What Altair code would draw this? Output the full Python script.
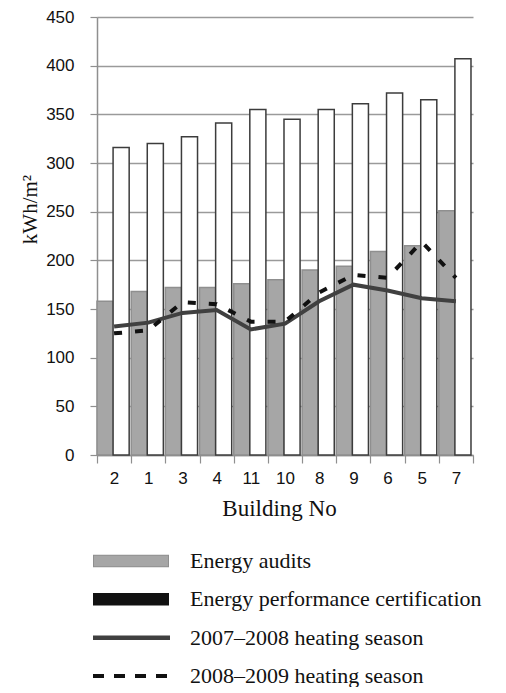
import altair as alt
import pandas as pd

# ---- data ----
buildings = ["2", "1", "3", "4", "11", "10", "8", "9", "6", "5", "7"]
energy_audits = [158, 168, 172, 172, 176, 180, 190, 194, 209, 215, 251]
energy_cert = [316, 320, 327, 341, 355, 345, 355, 361, 372, 365, 407]
heating_0708 = [132, 136, 146, 149, 129, 135, 158, 175, 169, 161, 158]
heating_0809 = [125, 128, 157, 155, 137, 137, 167, 185, 182, 219, 182]
series_names = [
    "Energy audits",
    "Energy performance certification",
    "2007–2008 heating season",
    "2008–2009 heating season",
]
y_ticks = [0, 50, 100, 150, 200, 250, 300, 350, 400, 450]

bars_df = pd.DataFrame({
    "building": buildings * 2,
    "series": [series_names[0]] * len(buildings) + [series_names[1]] * len(buildings),
    "value": energy_audits + energy_cert,
})
lines_df = pd.DataFrame({
    "building": buildings * 2,
    "series": [series_names[2]] * len(buildings) + [series_names[3]] * len(buildings),
    "value": heating_0708 + heating_0809,
})
legend_df = pd.DataFrame({"label": series_names})

SANS = "Liberation Sans"
SERIF = "Liberation Serif"

x_enc = alt.X(
    "building:N", sort=buildings, title="Building No",
    scale=alt.Scale(paddingInner=0, paddingOuter=0),
    axis=alt.Axis(
        tickBand="extent", labelAngle=0, grid=False,
        tickSize=8, labelPadding=7, labelFontSize=17,
        titleFontSize=23, titleX=182, titleY=60,
        titleBaseline="alphabetic", titleAlign="center",
    ),
)
y_enc = alt.Y(
    "value:Q", title="kWh/m²",
    scale=alt.Scale(domain=[0, 450], nice=False),
    axis=alt.Axis(
        values=y_ticks, tickSize=7, labelPadding=16, labelFontSize=17,
        titleFontSize=21, titleX=-67, titleY=192,
        titleBaseline="middle", titleAlign="center",
    ),
)

bar_layer = alt.Chart(bars_df).mark_bar(strokeWidth=1.5).encode(
    x=x_enc,
    y=y_enc,
    xOffset=alt.XOffset(
        "series:N", sort=series_names[:2],
        scale=alt.Scale(paddingInner=0, paddingOuter=0.0625, align=0),
    ),
    fill=alt.Fill("series:N", scale=alt.Scale(domain=series_names[:2],
                  range=["#a6a6a6", "#ffffff"]), legend=None),
    stroke=alt.Stroke("series:N", scale=alt.Scale(domain=series_names[:2],
                      range=["#8f8f8f", "#3c3c3c"]), legend=None),
)

line_0708 = alt.Chart(lines_df).transform_filter(
    alt.datum.series == series_names[2]
).mark_line(color="#404040", strokeWidth=4).encode(x=x_enc, y=y_enc)

line_0809 = alt.Chart(lines_df).transform_filter(
    alt.datum.series == series_names[3]
).mark_line(color="#111111", strokeWidth=4, strokeDash=[8, 13]).encode(x=x_enc, y=y_enc)

main = alt.layer(bar_layer, line_0708, line_0809).properties(width=376, height=438)

# ---- legend panel ----
ly = alt.Y("label:N", sort=series_names, axis=None,
           scale=alt.Scale(type="point", padding=0))
lbase = alt.Chart(legend_df)

def only(name):
    return lbase.transform_filter(alt.datum.label == name)

sym_ea_border = only(series_names[0]).mark_rule(
    color="#8f8f8f", strokeWidth=12.5, strokeCap="butt"
).encode(x=alt.value(-4), x2=alt.value(72), y=ly)
sym_ea_fill = only(series_names[0]).mark_rule(
    color="#a6a6a6", strokeWidth=10.5, strokeCap="butt"
).encode(x=alt.value(-3), x2=alt.value(71), y=ly)
sym_epc = only(series_names[1]).mark_rule(
    color="#111111", strokeWidth=12.5, strokeCap="butt"
).encode(x=alt.value(-4), x2=alt.value(72), y=ly)
sym_0708 = only(series_names[2]).mark_rule(
    color="#404040", strokeWidth=4.5, strokeCap="butt"
).encode(x=alt.value(-4), x2=alt.value(73), y=ly)
sym_0809 = only(series_names[3]).mark_rule(
    color="#111111", strokeWidth=4, strokeCap="butt", strokeDash=[11, 10]
).encode(x=alt.value(-4), x2=alt.value(73), y=ly)
legend_text = lbase.mark_text(
    align="left", baseline="middle", font=SERIF, fontSize=22, color="#111111"
).encode(x=alt.value(93), y=ly, text="label:N")

legend = alt.layer(
    sym_ea_border, sym_ea_fill, sym_epc, sym_0708, sym_0809, legend_text
).properties(width=380, height=115)

chart = alt.vconcat(main, legend, spacing=30).properties(
    padding={"left": 11, "top": 0, "right": 5, "bottom": 0}
).configure_view(stroke=None).configure_axis(
    labelFont=SANS, labelColor="#111111",
    titleFont=SERIF, titleColor="#111111", titleFontWeight="normal",
    domainColor="#8f8f8f", domainWidth=1.5,
    tickColor="#8f8f8f", tickWidth=1.2,
    gridColor="#9a9a9a", gridWidth=1.3,
)

chart.save("out.html", embed_options={"renderer": "svg", "actions": False})
